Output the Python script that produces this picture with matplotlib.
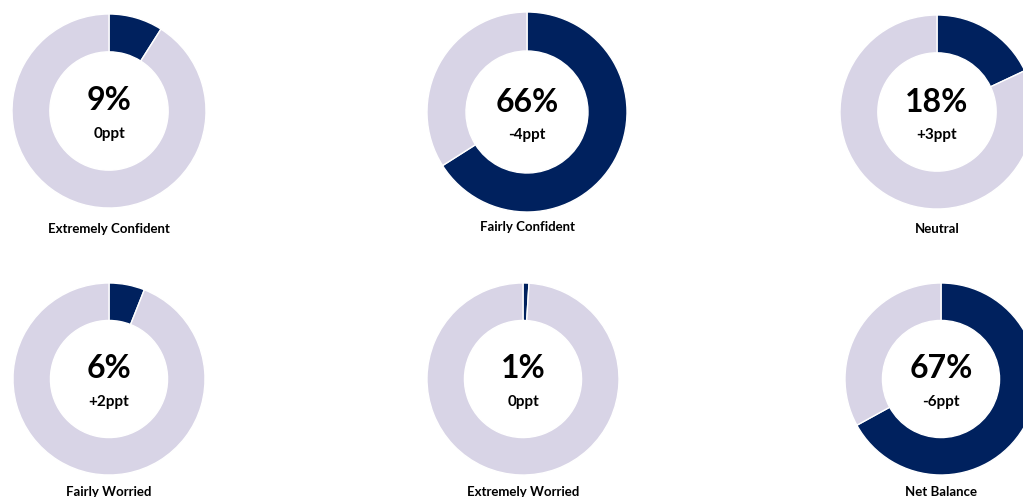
import matplotlib
matplotlib.use("Agg")
import matplotlib.pyplot as plt

categories = ["Extremely Confident", "Fairly Confident", "Neutral",
              "Fairly Worried", "Extremely Worried", "Net Balance"]
values = [9, 66, 18, 6, 1, 67]
changes = ["0ppt", "-4ppt", "+3ppt", "+2ppt", "0ppt", "-6ppt"]

W, H = 1023, 497
DPI = 100
fig = plt.figure(figsize=(W / DPI, H / DPI), dpi=DPI)
fig.patch.set_facecolor("white")

# centres (px) and radii (px)
centers = [(109, 111), (527, 112), (937, 112),
           (109, 379), (523, 379), (941, 379)]
radii = [97, 100, 97, 96, 96, 96]
label_y = [229, 227, 229, 492, 492, 492]

NAVY = "#00215E"
LAV = "#D8D4E6"
FONT = ["Lato", "DejaVu Sans"]

for cat, v, ch, (cx, cy), r, ly in zip(categories, values, changes, centers, radii, label_y):
    left = (cx - r) / W
    bottom = (H - cy - r) / H
    ax = fig.add_axes([left, bottom, 2 * r / W, 2 * r / H])
    ax.pie([v, 100 - v], colors=[NAVY, LAV], startangle=90, counterclock=False,
           radius=1.0, wedgeprops=dict(width=0.39, edgecolor="white", linewidth=1.0))
    ax.set_xlim(-1, 1)
    ax.set_ylim(-1, 1)
    ax.set_aspect("equal")
    ax.axis("off")
    fig.text(cx / W, 1 - (cy - 10) / H, f"{v}%", ha="center", va="center",
             fontsize=23, fontweight="bold", family=FONT, color="black")
    fig.text(cx / W, 1 - (cy + 23) / H, ch, ha="center", va="center",
             fontsize=11, fontweight="bold", family=FONT, color="black")
    fig.text(cx / W, 1 - ly / H, cat, ha="center", va="center",
             fontsize=9.5, fontweight="bold", family=FONT, color="black")

fig.savefig("out.png", dpi=DPI, facecolor="white")
